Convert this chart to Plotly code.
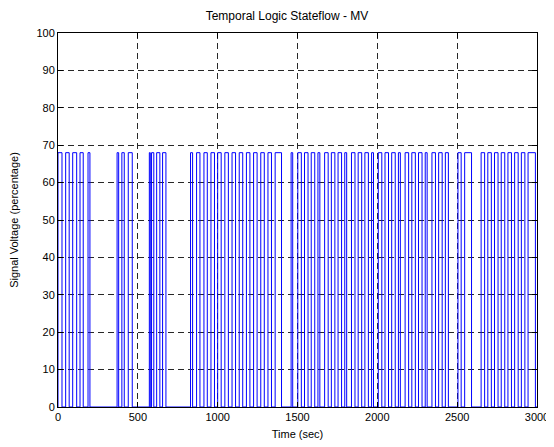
import plotly.graph_objects as go

# Pulse on/off times (seconds)
pulse_start = [0, 48, 92, 138, 188,
               370, 400, 440,
               572, 586, 618, 655,
               830, 868, 914, 958, 1000, 1045, 1090, 1135, 1180, 1225, 1270, 1315, 1360,
               1460, 1502, 1544, 1586, 1628, 1670, 1712, 1754, 1796, 1838, 1880, 1922,
               1964, 2006, 2048, 2090, 2132, 2174, 2216, 2258, 2300, 2342, 2384, 2426,
               2505, 2547, 2650, 2692, 2734, 2776, 2818, 2860, 2902, 2944]
pulse_end = [25, 70, 117, 158, 200,
             380, 415, 465,
             578, 600, 638, 676,
             843, 889, 935, 980, 1022, 1067, 1112, 1157, 1202, 1247, 1292, 1337, 1400,
             1470, 1524, 1566, 1608, 1640, 1692, 1734, 1776, 1808, 1860, 1902, 1944,
             1976, 2028, 2070, 2112, 2144, 2196, 2238, 2280, 2312, 2364, 2406, 2445,
             2525, 2590, 2672, 2714, 2756, 2798, 2840, 2882, 2924, 2990]
pulse_level = 68
t_end = 3000

x_ticks = [0, 500, 1000, 1500, 2000, 2500, 3000]
y_ticks = [0, 10, 20, 30, 40, 50, 60, 70, 80, 90, 100]

xs, ys = [], []
for s, e in zip(pulse_start, pulse_end):
    xs += [s, s, e, e]
    ys += [0, pulse_level, pulse_level, 0]
xs.append(t_end)
ys.append(0)

fig = go.Figure()
fig.add_trace(go.Scatter(x=xs, y=ys, mode="lines",
                         line=dict(color="rgb(0,0,255)", width=1),
                         showlegend=False, hoverinfo="skip"))

font = dict(family="Liberation Sans, Arial, sans-serif", size=11, color="black")
axis_common = dict(showline=True, linecolor="black", linewidth=1, mirror="ticks",
                   ticks="inside", ticklen=5, tickcolor="black",
                   showgrid=True, gridcolor="rgb(40,40,40)", griddash="6px,4px", gridwidth=1,
                   zeroline=False, tickfont=font, automargin=False)

# page has an 8px body margin, so margins are shifted accordingly
fig.update_layout(
    width=554, height=447,
    margin=dict(l=50, r=25, t=25, b=48),
    paper_bgcolor="white", plot_bgcolor="white",
    title=dict(text="Temporal Logic Stateflow - MV", x=(287 - 8) / 554, xanchor="center",
               y=1 - 8 / 447, yanchor="middle",
               font=dict(family="Liberation Sans, Arial, sans-serif", size=12, color="black")),
    font=font,
)
fig.update_xaxes(range=[0, 3000], tickvals=x_ticks, ticktext=[str(v) for v in x_ticks],
                 title=dict(text="Time (sec)", font=font, standoff=8), **axis_common)
fig.update_yaxes(range=[0, 100], tickvals=y_ticks, ticktext=[str(v) for v in y_ticks],
                 title=dict(text="Signal Voltage (percentage)", font=font, standoff=16),
                 **axis_common)

fig.write_html("out.html")
